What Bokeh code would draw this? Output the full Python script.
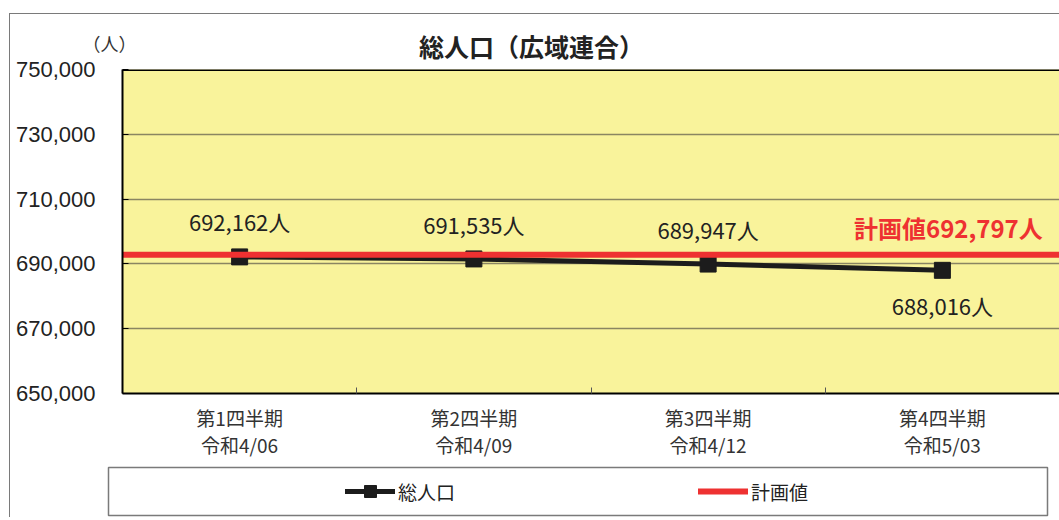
from bokeh.plotting import figure
from bokeh.layouts import column, row
from bokeh.models import (Range1d, FixedTicker, Legend, LegendItem, Span,
                          ColumnDataSource, NumeralTickFormatter)
from bokeh.core.properties import value
from bokeh.embed import file_html
from bokeh.resources import INLINE

# ---- data ----
title_text = "総人口（広域連合）"
unit_label = "（人）"
quarters = ["第1四半期", "第2四半期", "第3四半期", "第4四半期"]
dates = ["令和4/06", "令和4/09", "令和4/12", "令和5/03"]
population = [692162, 691535, 689947, 688016]
plan_value = 692797
y_ticks = [650000, 670000, 690000, 710000, 730000, 750000]
series_name = "総人口"
plan_name = "計画値"
unit = "人"

# ---- styles ----
JP = "Noto Sans CJK JP"
YELLOW = "#F9F39B"
RED = "#EE3131"
BLACK = "#1c1c1c"
FRAME_GRAY = "#7a7a7a"
label_offsets = [-36, -35, -35, 35]
W = 1049

n = len(quarters)
xs = [i + 0.5 for i in range(n)]
src = ColumnDataSource(dict(
    x=xs, y=population,
    label=[f"{v:,}{unit}" for v in population],
    yoff=label_offsets,
))

# ---------- header strip (title + unit) ----------
TOP_H = 60
p_top = figure(width=W, height=TOP_H, output_backend="svg", toolbar_location=None,
               x_range=Range1d(0, W), y_range=Range1d(TOP_H, 0),
               x_axis_location=None, y_axis_location=None,
               min_border=0, outline_line_color=None,
               background_fill_color="white", border_fill_color="white")
p_top.grid.visible = False
p_top.text(x=[521], y=[31], text=[title_text], text_align="center",
           text_baseline="middle", text_font=value(JP), text_font_size="25px",
           text_font_style="bold", text_color="#222222")
p_top.text(x=[99], y=[28], text=[unit_label], text_align="center",
           text_baseline="middle", text_font=value(JP), text_font_size="18px",
           text_color="#333333")

# ---------- main chart (overlaps header strip by 24px, transparent border) ----------
p = figure(width=W, height=410, output_backend="svg", toolbar_location=None,
           x_range=Range1d(0, n), y_range=Range1d(y_ticks[0], y_ticks[-1]),
           min_border_left=112, min_border_right=0, min_border_top=19,
           min_border_bottom=60, background_fill_color=YELLOW,
           border_fill_alpha=0, outline_line_color=None)

p.yaxis.ticker = FixedTicker(ticks=y_ticks)
p.yaxis.formatter = NumeralTickFormatter(format="0,0")
p.yaxis.major_label_text_font = "Liberation Sans"
p.yaxis.major_label_text_font_size = "22px"
p.yaxis.major_label_text_color = "#222222"
p.yaxis.major_label_standoff = 27
p.yaxis.major_tick_in = 6
p.yaxis.major_tick_out = 0
p.yaxis.minor_tick_line_color = None
p.yaxis.axis_line_color = "black"
p.yaxis.axis_line_width = 2

p.xaxis.ticker = FixedTicker(ticks=xs, minor_ticks=list(range(1, n)))
p.xaxis.major_label_overrides = {x: f"{q}\n{d}" for x, q, d in zip(xs, quarters, dates)}
p.xaxis.major_label_text_font = JP
p.xaxis.major_label_text_font_size = "19px"
p.xaxis.major_label_text_line_height = 1.0
p.xaxis.major_label_text_color = "#333333"
p.xaxis.major_label_standoff = 4
p.xaxis.major_tick_line_color = None
p.xaxis.minor_tick_in = 6
p.xaxis.minor_tick_out = 0
p.xaxis.minor_tick_line_color = "#555555"
p.xaxis.axis_line_color = "black"
p.xaxis.axis_line_width = 2

p.xgrid.grid_line_color = None
p.ygrid.grid_line_color = "#8a8562"
p.ygrid.grid_line_width = 1.5

p.add_layout(Span(location=y_ticks[-1], dimension="width", line_color="black", line_width=3))

p.line("x", "y", source=src, line_color=BLACK, line_width=5)
p.scatter("x", "y", source=src, marker="square", size=16, color=BLACK)
p.line(x=[0, n], y=[plan_value, plan_value], line_color=RED, line_width=6)

p.text("x", "y", text="label", source=src, y_offset="yoff", text_align="center",
       text_baseline="middle", text_font=value(JP), text_font_size="22px",
       text_color="#222222")
p.text(x=[xs[-1]], y=[plan_value], text=[f"{plan_name}{plan_value:,}{unit}"],
       x_offset=6, y_offset=-27, text_align="center", text_baseline="middle",
       text_font=value(JP), text_font_size="24px", text_font_style="bold",
       text_color=RED)

# ---------- legend strip ----------
p_leg = figure(width=W, height=57, output_backend="svg", toolbar_location=None,
               x_range=Range1d(0, 1), y_range=Range1d(0, 1),
               x_axis_location=None, y_axis_location=None,
               min_border_left=98, min_border_right=12, min_border_top=7,
               min_border_bottom=2, background_fill_color="white",
               border_fill_color="white", outline_line_color=FRAME_GRAY,
               outline_line_width=1.5)
p_leg.grid.visible = False
leg_line = p_leg.line(x=[-5, -4], y=[-5, -5], line_color=BLACK, line_width=5, line_cap="round")
leg_mark = p_leg.scatter(x=[-5], y=[-5], marker="square", size=12, color=BLACK)
leg_plan = p_leg.line(x=[-5, -4], y=[-5, -5], line_color=RED, line_width=6, line_cap="round")
legend = Legend(items=[LegendItem(label=series_name, renderers=[leg_line, leg_mark]),
                       LegendItem(label=plan_name, renderers=[leg_plan])],
                location=(237, 9), orientation="horizontal", border_line_color=None,
                background_fill_alpha=0, padding=0, margin=0, spacing=238,
                glyph_width=50, glyph_height=30, label_height=30, label_width=62,
                label_standoff=3, label_text_font=JP, label_text_font_size="19px",
                label_text_color="#222222")
p_leg.add_layout(legend, "center")

layout = column(row(p_top), row(p, margin=(-24, 0, 0, 0)), row(p_leg),
                spacing=0, margin=(13, 0, 0, 9),
                styles={"border-left": f"1px solid {FRAME_GRAY}",
                        "border-top": f"1px solid {FRAME_GRAY}"})

open("out.html", "w").write(file_html(layout, INLINE))
